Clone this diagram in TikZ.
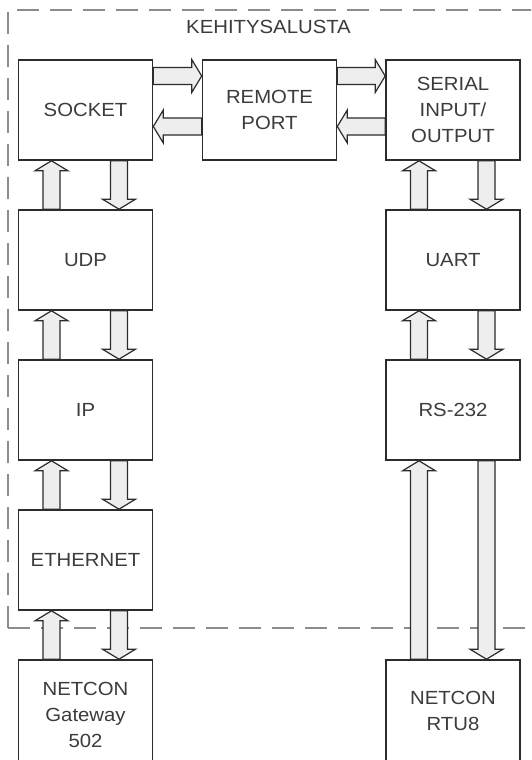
\documentclass[tikz,border=0pt]{standalone}
\usepackage{fontspec}
\setmainfont{Liberation Sans}[FakeStretch=1.07]
\usetikzlibrary{calc}

\definecolor{boxline}{HTML}{2C2C2C}
\definecolor{boxtext}{HTML}{3C3C3C}
\definecolor{dashgray}{HTML}{8C8C8C}
\definecolor{arrowfill}{HTML}{EEEEEE}

% wide outlined arrow from node anchor #1 to node anchor #2, both shifted by #3
\newcommand{\fatarrow}[3]{%
  \coordinate (fa-a) at ($(#1)+#3$);
  \coordinate (fa-b) at ($(#2)+#3$);
  \coordinate (fa-h) at ($(fa-b)!10pt!(fa-a)$);
  \draw[fatline] ($(fa-a)!8.5pt!90:(fa-b)$) -- ($(fa-h)!8.5pt!90:(fa-b)$)
    -- ($(fa-h)!16.5pt!90:(fa-b)$) -- (fa-b) -- ($(fa-h)!16.5pt!-90:(fa-b)$)
    -- ($(fa-h)!8.5pt!-90:(fa-b)$) -- ($(fa-a)!8.5pt!-90:(fa-b)$) -- cycle;}

\begin{document}
\begin{tikzpicture}[x=1pt,y=-1pt,
    layer/.style={draw=boxline, line width=1.6pt, fill=white, text=boxtext,
      minimum width=134pt, minimum height=100pt, align=center,
      font=\fontsize{19}{26}\selectfont, inner sep=0pt},
    fatline/.style={draw=boxline, line width=1.2pt, fill=arrowfill, line join=miter},
    frame/.style={draw=dashgray, line width=2pt, dash pattern=on 22pt off 11pt}]
                \clip (0,0) rectangle (531,760);
                \fill[white] (0,0) rectangle (531,760);

                % Development board frame
                \draw[frame] (8,628) -- (8,10) -- (560,10);
                \draw[frame] (8,628) -- (560,628);
                \node[text=boxtext, font=\fontsize{19}{26}\selectfont] (title) at (268.5,27) {KEHITYSALUSTA};

                % Top row
                \node[layer] (socket) at (85.5,110) {SOCKET};
                \node[layer] (remote) at (269.5,110) {REMOTE\\PORT};
                \node[layer] (serial) at (453,110) {SERIAL\\INPUT/\\OUTPUT};

                % Left column - network stack
                \node[layer] (udp) at (85.5,260) {UDP};
                \node[layer] (ip) at (85.5,410) {IP};
                \node[layer] (ethernet) at (85.5,560) {ETHERNET};
                \node[layer, minimum height=110pt] (gateway) at (85.5,715) {NETCON\\Gateway\\502};

                % Right column - serial line
                \node[layer] (uart) at (453,260) {UART};
                \node[layer] (rs232) at (453,410) {RS-232};
                \node[layer, minimum height=102pt] (rtu) at (453,711) {NETCON\\RTU8};

                % Horizontal arrows
                \fatarrow{socket.east}{remote.west}{(0,-34)}
                \fatarrow{remote.west}{socket.east}{(0,16.5)}
                \fatarrow{remote.east}{serial.west}{(0,-34)}
                \fatarrow{serial.west}{remote.east}{(0,16.5)}

                % Vertical arrows - left
                \fatarrow{udp.north}{socket.south}{(-34,0)}
                \fatarrow{socket.south}{udp.north}{(33.5,0)}
                \fatarrow{ip.north}{udp.south}{(-34,0)}
                \fatarrow{udp.south}{ip.north}{(33.5,0)}
                \fatarrow{ethernet.north}{ip.south}{(-34,0)}
                \fatarrow{ip.south}{ethernet.north}{(33.5,0)}
                \fatarrow{gateway.north}{ethernet.south}{(-34,0)}
                \fatarrow{ethernet.south}{gateway.north}{(33.5,0)}

                % Vertical arrows - right
                \fatarrow{uart.north}{serial.south}{(-34,0)}
                \fatarrow{serial.south}{uart.north}{(33.5,0)}
                \fatarrow{rs232.north}{uart.south}{(-34,0)}
                \fatarrow{uart.south}{rs232.north}{(33.5,0)}
                \fatarrow{rtu.north}{rs232.south}{(-34,0)}
                \fatarrow{rs232.south}{rtu.north}{(33.5,0)}

            \end{tikzpicture}
\end{document}
